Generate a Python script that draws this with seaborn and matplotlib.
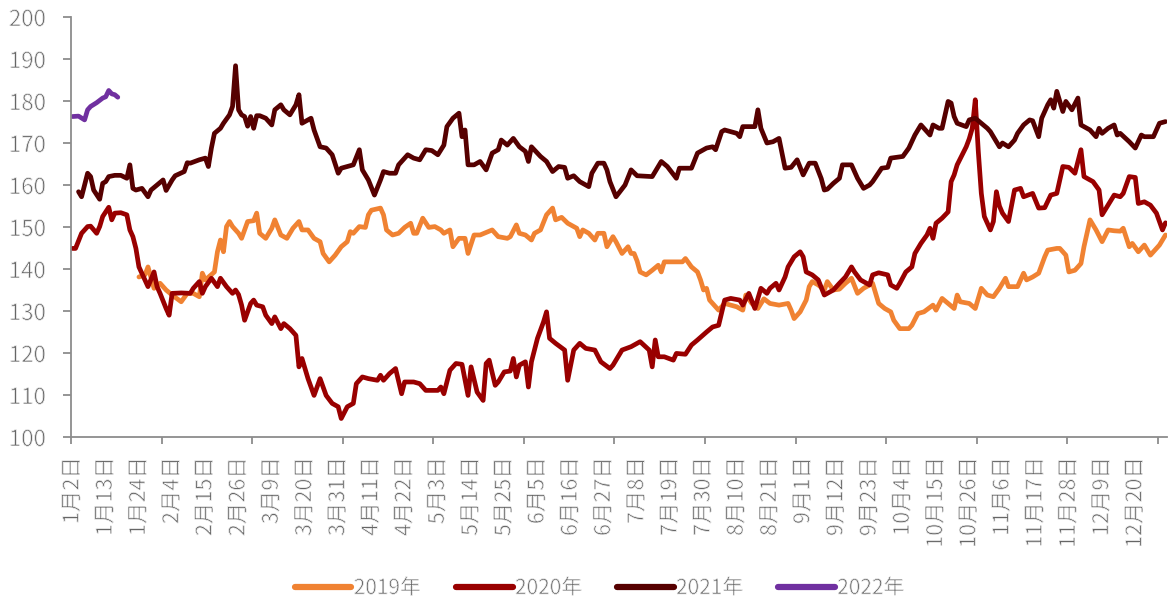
import pandas as pd
import matplotlib
matplotlib.use("Agg")
import matplotlib.pyplot as plt
import matplotlib.patheffects as pe
import seaborn as sns

# 横轴：1月2日起的日序（类目轴，共363个日期）
N_DAYS = 363

tick_labels = [
    "1月2日", "1月13日", "1月24日", "2月4日", "2月15日", "2月26日", "3月9日",
    "3月20日", "3月31日", "4月11日", "4月22日", "5月3日", "5月14日", "5月25日",
    "6月5日", "6月16日", "6月27日", "7月8日", "7月19日", "7月30日", "8月10日",
    "8月21日", "9月1日", "9月12日", "9月23日", "10月4日", "10月15日", "10月26日",
    "11月6日", "11月17日", "11月28日", "12月9日", "12月20日",
]

day_2019 = [22, 24, 25, 27, 29, 31, 33, 36, 38, 40, 42, 43, 44, 47, 48, 49, 50, 51, 52, 53,
            55, 56, 58, 60, 61, 62, 64, 66, 67, 69, 71, 73, 75, 76, 78, 80, 82, 83, 85, 87,
            89, 91, 92, 93, 95, 97, 98, 99, 102, 103, 104, 106, 108, 110, 112, 113, 114, 116, 118, 120,
            122, 123, 125, 126, 128, 130, 131, 133, 135, 139, 141, 144, 145, 147, 148, 150, 152, 153, 155, 157,
            159, 160, 162, 164, 166, 167, 168, 169, 171, 173, 174, 176, 177, 178, 179, 180, 182, 184, 185, 186,
            187, 188, 190, 192, 194, 195, 196, 200, 202, 203, 205, 207, 208, 209, 210, 211, 214, 216, 220, 222,
            223, 225, 227, 229, 231, 234, 237, 238, 239, 241, 243, 244, 245, 247, 249, 250, 252, 254, 256, 258,
            260, 262, 265, 267, 269, 271, 272, 274, 277, 278, 280, 282, 285, 286, 288, 290, 292, 293, 294, 297,
            299, 301, 303, 305, 307, 309, 310, 313, 315, 316, 318, 320, 322, 323, 326, 327, 329, 330, 332, 334,
            335, 337, 339, 341, 343, 345, 347, 348, 350, 351, 353, 355, 357, 360, 362]
val_2019 = [138.1, 138.6, 140.5, 135.4, 136.6, 135.0, 133.8, 132.2, 134.2, 134.2, 133.4, 139.0, 137.4, 139.3, 144.1, 146.9, 144.1, 150.1, 151.3, 150.1,
            148.5, 147.3, 151.3, 151.5, 153.3, 148.5, 147.3, 149.7, 151.7, 148.1, 147.3, 149.7, 151.3, 149.3, 149.3, 147.3, 146.5, 143.7, 141.7, 143.3,
            145.3, 146.5, 148.9, 148.5, 150.1, 149.9, 152.9, 154.0, 154.5, 152.9, 149.3, 148.1, 148.5, 149.9, 150.9, 148.5, 148.5, 152.1, 149.9, 150.1,
            149.3, 148.5, 149.3, 145.3, 147.3, 147.3, 143.7, 148.1, 148.1, 149.3, 147.7, 147.3, 147.7, 150.5, 148.5, 148.1, 146.9, 148.5, 149.3, 152.9,
            154.5, 151.7, 152.3, 150.9, 150.1, 149.7, 147.7, 149.3, 148.5, 146.9, 148.5, 148.5, 145.3, 146.5, 147.7, 146.5, 143.7, 145.3, 143.7, 143.7,
            141.9, 139.3, 138.6, 139.7, 140.9, 139.3, 141.7, 141.7, 141.7, 142.5, 140.5, 139.3, 137.4, 135.0, 135.4, 132.6, 130.2, 131.8, 131.0, 130.2,
            133.8, 131.8, 130.6, 132.9, 131.8, 131.4, 131.8, 130.2, 128.2, 129.8, 132.6, 135.8, 137.0, 136.2, 135.0, 137.0, 135.0, 135.2, 136.6, 137.8,
            134.2, 135.4, 136.6, 131.8, 130.6, 129.8, 127.8, 125.8, 125.8, 126.6, 129.4, 129.8, 131.4, 130.2, 133.0, 131.8, 130.6, 133.8, 132.2, 131.8,
            130.6, 135.4, 133.8, 133.4, 135.4, 137.8, 135.8, 135.8, 139.0, 137.4, 138.1, 139.0, 142.9, 144.5, 144.9, 144.9, 143.3, 139.3, 139.7, 141.3,
            145.3, 151.7, 149.3, 146.5, 149.3, 149.1, 149.0, 149.7, 145.3, 146.1, 144.1, 145.7, 143.3, 145.7, 148.1]

day_2020 = [0, 1, 3, 5, 6, 8, 9, 10, 12, 13, 14, 16, 18, 19, 20, 21, 22, 24, 25, 27,
            28, 29, 31, 32, 33, 36, 39, 40, 42, 43, 44, 46, 48, 49, 51, 53, 54, 55, 56, 57,
            59, 60, 61, 63, 64, 66, 67, 69, 70, 72, 74, 75, 76, 78, 80, 81, 82, 84, 86, 88,
            89, 91, 93, 94, 96, 98, 101, 102, 103, 105, 107, 109, 110, 113, 115, 117, 119, 121, 122, 123,
            125, 127, 129, 131, 132, 134, 136, 137, 138, 140, 141, 143, 145, 146, 147, 148, 150, 151, 152, 154,
            156, 157, 158, 160, 163, 164, 166, 168, 170, 173, 175, 178, 179, 182, 185, 188, 191, 192, 193, 194,
            196, 199, 200, 203, 205, 207, 210, 212, 214, 216, 218, 221, 222, 224, 226, 228, 230, 231, 233, 234,
            236, 237, 239, 241, 242, 243, 245, 247, 249, 252, 254, 256, 257, 258, 259, 261, 264, 265, 267, 270,
            271, 273, 274, 276, 278, 279, 281, 283, 284, 285, 286, 288, 290, 291, 292, 293, 296, 297, 298, 299,
            300, 301, 302, 304, 305, 306, 307, 308, 310, 312, 314, 315, 318, 320, 322, 324, 326, 328, 330, 332,
            334, 335, 338, 340, 341, 344, 345, 347, 348, 350, 352, 353, 355, 357, 359, 361, 362]
val_2020 = [144.9, 144.9, 148.5, 150.1, 150.2, 148.5, 150.1, 152.5, 154.7, 151.7, 153.3, 153.4, 152.9, 149.3, 147.7, 144.9, 140.5, 137.4, 135.8, 139.3,
            135.8, 134.2, 130.6, 129.0, 134.2, 134.3, 134.2, 135.4, 137.0, 134.2, 135.8, 137.8, 135.8, 137.8, 135.8, 134.2, 135.0, 133.9, 131.4, 127.8,
            131.8, 132.6, 131.4, 131.0, 129.0, 127.0, 128.6, 125.8, 127.0, 125.8, 124.2, 116.7, 118.7, 113.9, 109.9, 111.9, 113.9, 109.9, 108.0, 107.2,
            104.4, 107.2, 108.0, 112.7, 114.3, 113.9, 113.5, 114.7, 113.5, 115.1, 116.3, 110.3, 113.1, 113.1, 112.7, 111.1, 111.1, 111.1, 111.9, 110.3,
            115.9, 117.5, 117.3, 109.9, 116.7, 110.7, 108.7, 117.5, 118.3, 112.3, 113.1, 115.5, 115.7, 118.7, 114.3, 117.1, 117.9, 111.9, 117.9, 123.5,
            127.4, 129.8, 123.5, 122.3, 120.7, 113.5, 120.7, 122.3, 121.1, 120.7, 117.9, 116.3, 117.1, 120.7, 121.5, 122.7, 120.7, 116.7, 123.1, 119.1,
            119.1, 118.3, 119.9, 119.7, 121.9, 123.1, 125.0, 126.2, 126.6, 132.6, 133.0, 132.6, 131.4, 134.2, 130.6, 135.4, 134.2, 135.4, 136.6, 135.0,
            138.1, 140.5, 142.9, 144.1, 142.9, 139.3, 138.6, 137.4, 133.8, 135.0, 136.6, 138.1, 139.3, 140.5, 139.3, 137.4, 136.2, 138.6, 139.1, 138.6,
            136.2, 135.4, 136.6, 139.3, 140.5, 143.7, 146.1, 148.1, 149.7, 147.3, 150.9, 152.1, 153.6, 160.8, 162.4, 164.8, 169.1, 171.0, 173.5, 180.3,
            168.0, 158.0, 152.5, 149.3, 151.3, 158.4, 155.0, 153.3, 151.3, 158.8, 159.2, 157.2, 158.0, 154.5, 154.6, 157.6, 158.0, 164.4, 164.2, 162.8,
            168.4, 162.0, 160.8, 158.8, 152.9, 156.4, 157.6, 157.2, 158.0, 162.0, 161.8, 155.6, 156.0, 155.2, 153.3, 149.3, 151.0]

day_2021 = [2, 3, 4, 5, 6, 7, 9, 10, 11, 12, 14, 16, 18, 19, 20, 21, 23, 25, 26, 28,
            30, 31, 33, 34, 37, 38, 39, 42, 44, 45, 46, 47, 49, 50, 52, 53, 54, 55, 56, 57,
            58, 59, 60, 61, 62, 64, 66, 67, 69, 70, 72, 74, 75, 76, 77, 79, 80, 82, 84, 86,
            88, 89, 92, 93, 95, 96, 98, 100, 102, 103, 105, 107, 108, 111, 113, 115, 117, 119, 121, 123,
            124, 126, 128, 129, 130, 131, 133, 135, 137, 139, 141, 142, 144, 146, 148, 150, 151, 152, 155, 157,
            159, 161, 163, 164, 166, 168, 171, 172, 174, 176, 177, 178, 180, 183, 185, 187, 192, 195, 197, 200,
            201, 205, 207, 210, 212, 213, 215, 216, 220, 221, 222, 226, 227, 228, 230, 232, 234, 236, 238, 240,
            242, 244, 246, 248, 249, 250, 252, 254, 255, 258, 260, 262, 264, 265, 268, 270, 271, 275, 277, 279,
            281, 283, 284, 285, 287, 288, 290, 291, 292, 293, 296, 297, 299, 301, 303, 304, 307, 308, 310, 312,
            313, 315, 317, 318, 320, 321, 323, 324, 325, 326, 328, 329, 331, 333, 334, 336, 337, 339, 340, 341,
            343, 345, 346, 347, 350, 352, 354, 355, 358, 360, 362]
val_2021 = [158.4, 157.2, 160.0, 162.8, 162.0, 158.8, 156.6, 160.4, 160.8, 162.0, 162.3, 162.3, 161.6, 164.8, 159.2, 158.8, 159.2, 157.2, 158.8, 160.0,
            161.2, 158.7, 161.2, 162.2, 163.2, 165.3, 165.2, 166.0, 166.4, 164.4, 168.8, 172.3, 173.5, 174.7, 176.7, 178.7, 188.4, 177.9, 176.7, 176.3,
            174.0, 176.3, 173.5, 176.5, 176.5, 175.9, 174.3, 177.9, 179.1, 177.9, 176.7, 179.1, 181.5, 174.7, 175.1, 175.9, 173.1, 169.1, 168.8, 167.2,
            162.8, 164.0, 164.6, 164.8, 168.4, 163.6, 161.2, 157.6, 161.2, 163.2, 162.8, 162.8, 164.8, 167.2, 166.4, 166.0, 168.4, 168.2, 167.2, 169.5,
            173.9, 175.9, 177.1, 171.5, 173.1, 164.8, 164.8, 165.6, 163.6, 167.6, 168.4, 170.7, 169.5, 171.1, 169.1, 168.0, 165.6, 169.1, 166.8, 165.6,
            163.2, 164.4, 164.2, 161.6, 162.2, 160.8, 159.6, 162.8, 165.2, 165.2, 163.6, 160.8, 157.2, 160.0, 163.6, 162.2, 162.0, 165.6, 164.4, 161.6,
            164.0, 164.0, 167.6, 168.8, 169.1, 168.4, 172.7, 173.1, 172.3, 171.5, 173.9, 173.9, 177.9, 173.5, 170.0, 170.3, 171.1, 164.0, 164.2, 166.0,
            162.4, 165.2, 165.2, 161.5, 158.8, 159.0, 160.4, 161.6, 164.8, 164.8, 161.6, 159.2, 160.0, 160.8, 164.0, 164.2, 166.4, 166.8, 168.8, 171.9,
            174.3, 172.7, 171.9, 174.3, 173.5, 173.5, 179.9, 179.5, 176.3, 174.7, 173.9, 175.5, 175.9, 174.7, 173.5, 172.7, 169.1, 170.0, 169.1, 170.7,
            172.3, 174.3, 175.5, 175.3, 171.5, 175.9, 179.1, 180.3, 178.3, 182.3, 177.5, 179.9, 177.9, 180.7, 174.3, 173.5, 173.1, 171.5, 173.5, 172.3,
            173.5, 174.3, 171.9, 172.3, 170.3, 168.8, 171.9, 171.5, 171.5, 174.7, 175.1]

day_2022 = [0, 2, 4, 5, 6, 8, 10, 11, 12, 13, 14, 15]
val_2022 = [176.3, 176.4, 175.5, 177.9, 178.7, 179.6, 180.7, 181.0, 182.5, 181.7, 181.5, 180.9]

years = ["2019年", "2020年", "2021年", "2022年"]
colors = ["#F08232", "#990000", "#560000", "#7030A0"]

frames = []
for year, days, vals in zip(years, [day_2019, day_2020, day_2021, day_2022],
                            [val_2019, val_2020, val_2021, val_2022]):
    frames.append(pd.DataFrame({"day": days, "value": vals, "year": year}))
df = pd.concat(frames, ignore_index=True)

sns.set_style("white")
plt.rcParams["font.family"] = ["Noto Sans CJK SC", "DejaVu Sans"]

gray = "#8c8c8c"
text_gray = "#666666"
# 细化字形笔画（参考图是细体字）
thin = [pe.Normal(), pe.Stroke(linewidth=0.55, foreground="white")]

fig = plt.figure(figsize=(11.71, 6.05), dpi=100)
ax = fig.add_axes([71 / 1171, 1 - 437 / 605, (1167 - 71) / 1171, (437 - 17) / 605])

sns.lineplot(data=df, x="day", y="value", hue="year", hue_order=years,
             palette=colors, estimator=None, linewidth=3.4, ax=ax,
             solid_capstyle="round", solid_joinstyle="round")

ax.set_xlim(-0.5, N_DAYS - 0.5)
ax.set_ylim(100, 200)
ax.set_yticks(range(100, 201, 10))
ax.set_xticks(range(0, 11 * len(tick_labels), 11))
ax.set_xticklabels(tick_labels, rotation=90, va="top", ha="center")
ax.set_xticks([x - 0.5 for x in range(0, 361, 30)], minor=True)
ax.set_xlabel("")
ax.set_ylabel("")

for side in ["top", "right"]:
    ax.spines[side].set_visible(False)
for side in ["left", "bottom"]:
    ax.spines[side].set_color(gray)
    ax.spines[side].set_linewidth(1.3)

ax.tick_params(axis="x", which="major", bottom=True, length=0, pad=14.5, labelsize=15.5,
               labelcolor=text_gray)
ax.tick_params(axis="x", which="minor", bottom=True, length=5, width=1.3, color=gray,
               direction="out")
ax.tick_params(axis="y", left=True, length=6, width=1.3, color=gray, direction="out", pad=12,
               labelsize=16, labelcolor=text_gray)
ax.grid(False)

for lab in ax.get_xticklabels() + ax.get_yticklabels():
    lab.set_path_effects(thin)

handles, labels = ax.get_legend_handles_labels()
ax.get_legend().remove()
leg = fig.legend(handles, labels, loc="center", bbox_to_anchor=(0.512, 0.028), ncol=4,
                 frameon=False, handlelength=2.7, handletextpad=0.12, columnspacing=1.7,
                 prop={"size": 15})
for t in leg.get_texts():
    t.set_color(text_gray)
    t.set_path_effects(thin)
for h in leg.legend_handles:
    h.set_linewidth(4.5)

fig.savefig("out.png", dpi=100)
